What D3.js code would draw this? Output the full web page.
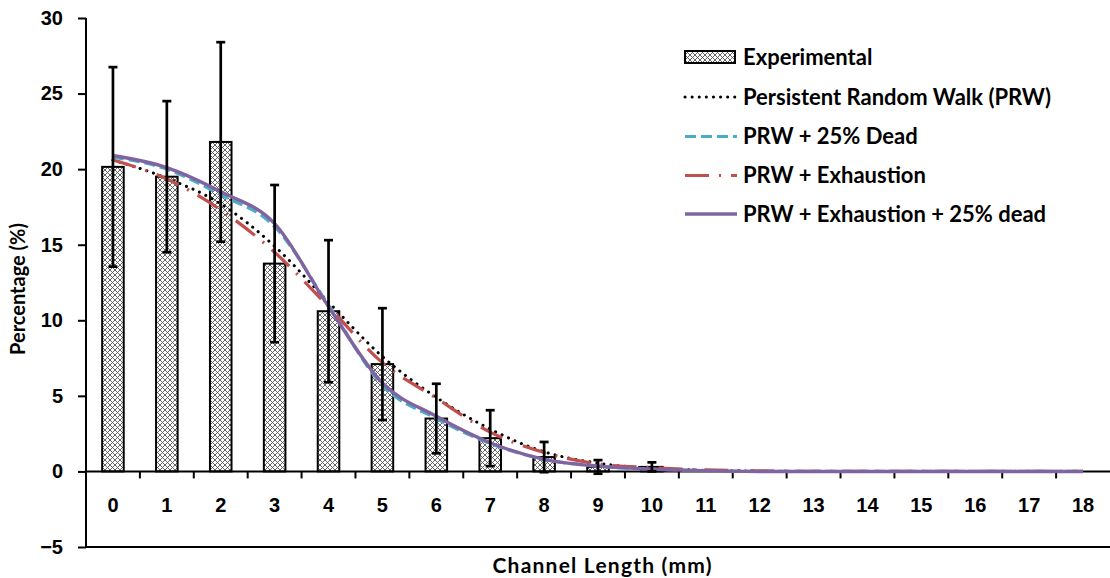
<!DOCTYPE html>
<html>
<head>
<meta charset="utf-8">
<script src="https://cdn.jsdelivr.net/npm/d3@7/dist/d3.min.js"></script>
<style>
html,body{margin:0;padding:0;background:#fff;}
svg{display:block;font-family:Lato,"Open Sans",sans-serif;}
</style>
</head>
<body>
<svg id="chart" width="1110" height="578"></svg>
<script>
const categories = ["0","1","2","3","4","5","6","7","8","9","10","11","12","13","14","15","16","17","18"];
const experimental = [20.15,19.5,21.8,13.75,10.6,7.1,3.5,2.2,0.95,0.3,0.3,0,0,0,0,0,0,0,0];
const experimentalErr = [6.6,5.0,6.6,5.2,4.7,3.7,2.3,1.85,1.0,0.45,0.3,0,0,0,0,0,0,0,0];
const prw = [20.6,19.4,17.7,14.9,11.2,7.6,4.9,2.8,1.3,0.55,0.2,0.08,0.02,0,0,0,0,0,0];
const prwDead = [20.8,20.0,18.3,16.2,11.0,5.7,3.5,1.85,0.8,0.35,0.15,0.05,0,0,0,0,0,0,0];
const prwExh = [20.6,19.35,17.3,14.5,10.9,7.2,4.85,2.6,1.25,0.5,0.25,0.1,0.04,0,0,0,0,0,0];
const prwExhDead = [20.9,20.1,18.5,16.4,10.9,5.85,3.65,1.9,0.8,0.35,0.15,0.05,0,0,0,0,0,0,0];
const yTicks = [-5,0,5,10,15,20,25,30];
const seriesNames = ["Experimental","Persistent Random Walk (PRW)","PRW + 25% Dead","PRW + Exhaustion","PRW + Exhaustion + 25% dead"];

const svg = d3.select("#chart");
const x = d3.scaleBand().domain(categories).range([86,1110]).paddingInner(0).paddingOuter(0);
const y = d3.scaleLinear().domain([-5,30]).range([547,18]);

// pattern
const defs = svg.append("defs");
const pat = defs.append("pattern").attr("id","hatch").attr("patternUnits","userSpaceOnUse")
  .attr("width",5).attr("height",5);
pat.append("rect").attr("width",5).attr("height",5).attr("fill","#fff");
pat.append("path").attr("d","M0,0L5,5M5,0L0,5").attr("stroke","#555").attr("stroke-width",0.9);

// y axis
const yAxis = d3.axisLeft(y).tickValues(yTicks).tickSize(8).tickSizeOuter(0).tickPadding(15);
const gy = svg.append("g").attr("transform","translate(86,0)").call(yAxis);
gy.select(".domain").attr("stroke","#000").attr("stroke-width",2).attr("d","M0,"+y(30)+"V"+y(-5));
gy.selectAll(".tick line").attr("stroke","#000").attr("stroke-width",2);
gy.selectAll(".tick text").attr("font-size",20).attr("font-weight","bold").attr("fill","#000");

// bottom line
svg.append("line").attr("x1",86).attr("x2",1110).attr("y1",y(-5)).attr("y2",y(-5))
  .attr("stroke","#000").attr("stroke-width",2);

// bars
const bw = x.bandwidth()*0.4;
svg.append("g").selectAll("rect").data(categories.map((c,i)=>({c,v:experimental[i]})).filter(d=>d.v>0))
  .enter().append("rect")
  .attr("x",d=>x(d.c)+x.bandwidth()/2-bw/2)
  .attr("y",d=>y(d.v)).attr("width",bw).attr("height",d=>y(0)-y(d.v))
  .attr("fill","url(#hatch)").attr("stroke","#000").attr("stroke-width",2);

// x axis at zero
const xAxis = d3.axisBottom(x).tickSize(0).tickPadding(26);
const gx = svg.append("g").attr("transform","translate(0,"+y(0)+")").call(xAxis);
gx.select(".domain").attr("stroke","#000").attr("stroke-width",2).attr("d","M86,0H1110");
gx.selectAll(".tick text").attr("font-size",20).attr("font-weight","bold").attr("fill","#000");
// boundary ticks
svg.append("g").selectAll("line").data(categories.slice(1)).enter().append("line")
  .attr("x1",d=>x(d)).attr("x2",d=>x(d)).attr("y1",y(0)).attr("y2",y(0)+7)
  .attr("stroke","#000").attr("stroke-width",2);

// lines
const cx = (d,i)=>x(categories[i])+x.bandwidth()/2;
const line = d3.line().x((d,i)=>cx(d,i)).y(d=>y(d)).curve(d3.curveMonotoneX);
const styles = [
  {data:prw, color:"#000", dash:"0.1,7", width:3, cap:"round"},
  {data:prwDead, color:"#4BACC6", dash:"11,5", width:3.2, cap:"butt"},
  {data:prwExh, color:"#C0504D", dash:"24,10,2,10", width:3.2, cap:"butt"},
  {data:prwExhDead, color:"#8064A2", dash:null, width:3.4, cap:"butt"}
];
styles.forEach(s=>{
  svg.append("path").attr("d",line(s.data)).attr("fill","none").attr("stroke",s.color)
    .attr("stroke-width",s.width).attr("stroke-dasharray",s.dash).attr("stroke-linecap",s.cap);
});

// error bars
const eg = svg.append("g");
categories.forEach((c,i)=>{
  const e = experimentalErr[i];
  if(!(e>0)) return;
  const xc = x(c)+x.bandwidth()/2;
  const v = experimental[i];
  eg.append("line").attr("x1",xc).attr("x2",xc).attr("y1",y(v+e)).attr("y2",y(v-e)).attr("stroke","#000").attr("stroke-width",2.7);
  [v+e,v-e].forEach(t=>eg.append("line").attr("x1",xc-4.5).attr("x2",xc+4.5).attr("y1",y(t)).attr("y2",y(t)).attr("stroke","#000").attr("stroke-width",2.7));
});

// legend
const lg = svg.append("g");
const rows = [57,97,136.5,175.5,214];
lg.append("rect").attr("x",685).attr("y",rows[0]-6).attr("width",50).attr("height",12)
  .attr("fill","url(#hatch)").attr("stroke","#000").attr("stroke-width",2);
styles.forEach((s,i)=>{
  lg.append("line").attr("x1",685).attr("x2",737).attr("y1",rows[i+1]).attr("y2",rows[i+1])
    .attr("stroke",s.color).attr("stroke-width",s.width).attr("stroke-dasharray",s.dash).attr("stroke-linecap",s.cap);
});
seriesNames.forEach((n,i)=>{
  lg.append("text").attr("x",743).attr("y",rows[i]).attr("dy","0.36em").attr("font-size",22)
    .attr("font-weight","bold").attr("fill","#000").text(n);
});

// axis titles
svg.append("text").attr("x",602).attr("y",565).attr("dy","0.36em").attr("text-anchor","middle")
  .attr("font-size",21).attr("font-weight","bold").attr("textLength",219).attr("lengthAdjust","spacing")
  .text("Channel Length (mm)");
svg.append("text").attr("transform","translate(18,289) rotate(-90)").attr("dy","0.36em").attr("text-anchor","middle")
  .attr("font-size",20).attr("font-weight","bold").text("Percentage (%)");
</script>
</body>
</html>
